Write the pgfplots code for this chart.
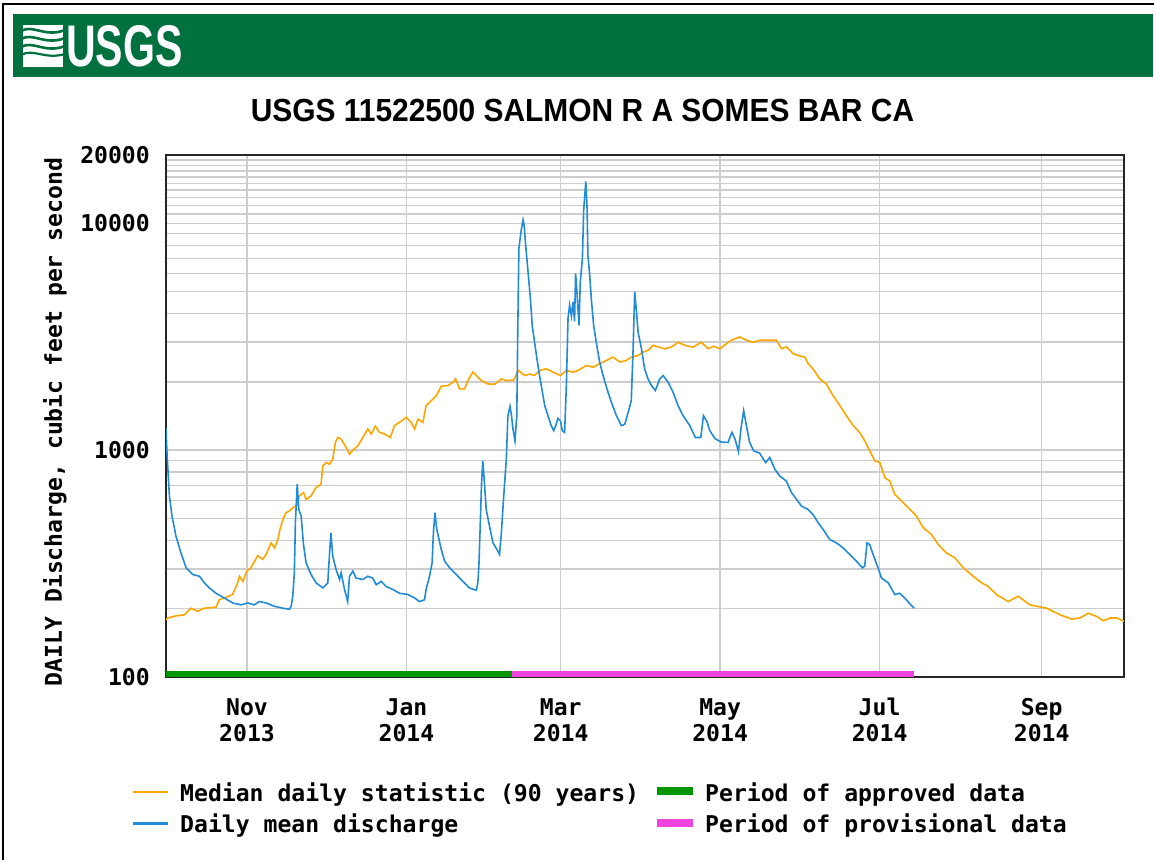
\documentclass[border=0pt]{standalone}
\usepackage{fontspec}
\usepackage{graphicx}
\usepackage{pgfplots}
\pgfplotsset{compat=1.18}
\setmainfont{Liberation Sans}
\newfontfamily\monofam{DejaVu Sans Mono}
\newcommand\tfont{\monofam\bfseries\fontsize{23.1}{26.3}\selectfont}
\definecolor{hdrgreen}{RGB}{0,112,62}
\definecolor{medorange}{RGB}{255,165,0}
\definecolor{meanblue}{RGB}{34,139,214}
\definecolor{appgreen}{RGB}{0,150,0}
\definecolor{provpink}{RGB}{238,68,221}
\definecolor{gridgray}{RGB}{205,205,205}

\begin{document}
\begin{tikzpicture}[x=1pt,y=1pt]
\path[use as bounding box] (0,0) rectangle (1154,860);
% outer frame (top and left)
\draw[line width=2pt,black] (3,0) -- (3,856) -- (1154,856);
% header band
\fill[hdrgreen] (12.7,782.5) rectangle (1153,846);
% logo mark
\fill[white] (23,793) rectangle (63,835);
\begin{scope}
\clip (23,793) rectangle (63,835);
\draw[hdrgreen,line width=2.6pt] (21,829) .. controls (33,836) and (45,822) .. (65,830);
\draw[hdrgreen,line width=2.6pt] (21,821) .. controls (33,828) and (45,814) .. (65,822);
\draw[hdrgreen,line width=2.6pt] (21,813) .. controls (33,820) and (45,806) .. (65,814);
\draw[hdrgreen,line width=2.2pt] (21,805) .. controls (33,812) and (45,800) .. (65,806);
\end{scope}
\node[anchor=base west,inner sep=0pt,text=white,font=\bfseries\fontsize{58.7}{60}\selectfont] at (66,793) {\scalebox{0.70}[1]{USGS}};
% title
\node[anchor=base,inner sep=0pt,font=\bfseries\fontsize{32}{36}\selectfont] at (582.5,738) {\scalebox{0.935}[1]{USGS 11522500 SALMON R A SOMES BAR CA}};
% y label
\node[rotate=90,inner sep=0pt,font=\tfont] at (55,438) {DAILY Discharge, cubic feet per second};

\begin{axis}[
  at={(166pt,183pt)}, anchor=south west,
  scale only axis, width=958pt, height=522pt,
  ymode=log, xmin=0, xmax=366.5, ymin=100, ymax=20000,
  xtick={31,92,151,212,273,335},
  xticklabels={{\vphantom{l}Nov\\2013},{\vphantom{l}Jan\\2014},{\vphantom{l}Mar\\2014},{\vphantom{l}May\\2014},{\vphantom{l}Jul\\2014},{\vphantom{l}Sep\\2014}},
  ytick={100,1000,10000,20000},
  yticklabels={100,1000,10000,20000},
  minor ytick={200,300,400,500,600,700,800,900,2000,3000,4000,5000,6000,7000,8000,9000,11000,12000,13000,14000,15000,16000,17000,18000,19000},
  xmajorgrids, ymajorgrids, yminorgrids,
  major grid style={gridgray,line width=1.5pt},
  minor grid style={gridgray,line width=1.5pt},
  major tick length=0pt, minor tick length=0pt,
  axis line style={line width=2pt,black!85},
  /pgf/number format/assume math mode=true,
  xticklabel style={font=\tfont,align=center,anchor=north,inner sep=0pt,yshift=-20.3pt},
  yticklabel style={font=\tfont,anchor=east,inner sep=0pt,xshift=-16pt},
  clip=true,
]
% period bars
\addplot[appgreen,line width=6pt] coordinates {(0,103.6) (132.3,103.6)};
\addplot[provpink,line width=6pt] coordinates {(132.3,103.6) (286.3,103.6)};
% median daily statistic
\addplot[medorange,line width=1.6pt] coordinates {
(0,179) (0.6,182) (3.8,186) (7.0,188) (9.6,201) (12.1,195) (14.7,201) (19.1,203) (20.4,219) (22.3,223) (25.5,231) (27.4,260) (28.1,278) (29.4,264) (30.9,293) (32.5,303) (35.1,343) (37.0,330) (38.3,347) (40.2,390) (41.5,371) (42.8,404) (43.6,447) (44.7,495) (45.9,530) (47.2,539) (48.5,558) (49.8,567) (51.0,628) (52.6,650) (53.6,607) (55.5,628) (57.4,684) (59.3,708) (60.0,853) (61.3,881) (62.5,867) (63.8,912) (64.8,1081) (65.7,1137) (67.0,1119) (68.9,1028) (70.2,960) (71.5,1000) (73.4,1045) (75.3,1137) (77.2,1239) (78.5,1178) (80.1,1274) (81.7,1197) (83.6,1178) (85.8,1137) (87.4,1282) (89.3,1325) (91.9,1396) (93.8,1325) (95.1,1239) (96.4,1371) (98.3,1325) (99.5,1571) (101.5,1653) (103.4,1738) (105.3,1914) (107.9,1927) (109.8,1991) (110.8,2061) (112.3,1862) (114.2,1862) (115.5,2026) (117.4,2208) (118.7,2133) (120.6,2026) (123.1,1959) (125.7,1950) (128.3,2061) (130.2,2026) (133.0,2035) (134.8,2244) (137.2,2133) (139.1,2165) (141.0,2133) (142.9,2244) (145.5,2282) (148.0,2208) (150.9,2133) (153.2,2244) (155.7,2208) (157.6,2244) (160.8,2360) (163.4,2320) (165.9,2404) (168.5,2485) (171.0,2570) (173.6,2445) (176.1,2485) (178.0,2570) (180.6,2612) (182.5,2704) (184.4,2750) (186.3,2897) (188.2,2850) (190.8,2799) (193.4,2850) (195.9,2990) (198.5,2897) (201.6,2845) (204.8,2990) (207.3,2800) (209.5,2870) (211.9,2799) (214.4,2944) (216.3,3050) (219.5,3155) (222.1,3050) (224.6,2990) (227.2,3050) (229.7,3050) (233.5,3050) (235.5,2800) (237.4,2850) (240.0,2660) (241.8,2612) (244.4,2570) (245.7,2404) (247.5,2282) (250.1,2061) (252.6,1959) (255.2,1738) (257.8,1571) (260.3,1419) (262.9,1282) (265.4,1197) (267.3,1099) (269.2,993) (271.2,897) (273.1,881) (275.0,757) (276.9,731) (278.8,638) (281.4,597) (284.6,548) (287.1,512) (289.7,455) (292.8,425) (295.4,384) (298.6,352) (301.8,335) (305.0,303) (308.8,278) (312.0,260) (314.5,251) (317.7,231) (322.2,215) (326.0,227) (330.5,208) (333.1,205) (336.9,201) (342.0,188) (346.5,180) (349.6,182) (352.8,191) (356.0,185) (358.6,177) (361.1,182) (363.7,182) (366.5,176)
};
% daily mean discharge
\addplot[meanblue,line width=1.6pt] coordinates {
(0,1250) (0.4,960) (1.3,628) (2.3,512) (3.8,418) (5.7,353) (7.7,303) (10.2,283) (12.8,278) (14.7,260) (16.6,247) (19.1,234) (22.3,223) (25.5,212) (28.7,208) (31.3,212) (33.8,208) (35.7,215) (38.3,212) (41.5,205) (44.7,201) (47.2,199) (47.9,205) (48.5,227) (49.1,288) (49.5,478) (50.2,708) (50.8,548) (51.7,512) (52.6,384) (53.6,318) (55.5,283) (57.4,260) (60.0,247) (61.9,260) (62.5,340) (63.1,432) (63.8,340) (65.1,297) (66.4,269) (67.0,288) (68.3,243) (69.5,215) (70.2,278) (71.5,293) (72.7,273) (75.3,269) (77.2,278) (79.1,273) (80.4,255) (82.3,264) (84.2,251) (86.8,243) (89.3,234) (92.5,231) (95.1,223) (97.0,215) (98.9,219) (99.5,243) (100.8,278) (101.8,318) (102.3,432) (102.9,530) (103.6,447) (105.3,365) (106.6,324) (108.5,303) (111.0,283) (113.6,264) (116.1,247) (118.7,241) (119.3,260) (119.7,308) (120.2,462) (120.7,708) (121.2,897) (121.9,695) (122.5,548) (123.5,478) (125.1,390) (126.6,365) (127.6,347) (128.3,432) (129.2,628) (130.2,912) (130.8,1419) (131.6,1560) (132.2,1410) (132.7,1250) (133.5,1099) (134.2,1419) (134.6,3548) (135.0,7740) (135.9,9330) (136.6,10350) (137.0,9800) (137.6,8010) (138.5,6110) (139.4,4660) (140.1,3548) (141.0,2990) (141.9,2529) (142.9,2133) (144.0,1799) (144.9,1571) (146.1,1419) (147.4,1282) (148.3,1219) (149.1,1282) (149.9,1380) (150.9,1346) (151.6,1219) (152.5,1197) (153.2,1991) (153.8,3801) (154.4,4355) (155.1,3900) (155.7,4500) (156.3,3700) (156.7,6010) (157.2,4990) (158.0,3548) (158.5,5520) (159.3,7000) (159.8,11460) (160.6,15280) (161.1,11600) (161.4,7240) (162.1,5900) (162.7,4660) (163.6,3548) (164.6,2990) (165.9,2445) (167.2,2133) (168.7,1862) (170.4,1625) (172.3,1419) (174.2,1282) (175.5,1300) (176.8,1468) (178.0,1653) (178.7,2799) (179.3,4990) (180.0,4064) (180.6,3319) (181.9,2799) (183.1,2282) (184.4,2061) (185.7,1927) (187.2,1831) (188.9,2061) (190.2,2133) (192.1,1991) (194.0,1799) (195.9,1571) (197.8,1419) (200.4,1282) (202.5,1137) (204.6,1137) (205.6,1419) (207.0,1330) (208.0,1219) (210.2,1119) (212.5,1085) (215.0,1081) (216.5,1197) (217.7,1119) (219.0,985) (220.0,1250) (221.0,1493) (222.2,1250) (223.3,1081) (224.8,993) (227.1,970) (229.4,881) (231.0,928) (232.9,824) (234.8,769) (237.3,731) (239.3,650) (241.2,607) (243.1,567) (245.6,548) (247.5,521) (249.5,478) (251.4,447) (253.9,404) (256.5,390) (259.0,371) (261.6,347) (264.1,324) (266.4,303) (267.3,308) (268.2,390) (269.2,384) (270.5,347) (272.4,303) (273.7,273) (276.3,260) (278.8,231) (280.7,234) (282.6,223) (284.6,210) (286.2,201)
};
\end{axis}

% legend
\draw[medorange,line width=2.5pt] (133,68) -- (168,68);
\node[anchor=base west,inner sep=0pt,font=\tfont] at (180,59) {Median daily statistic (90 years)};
\draw[meanblue,line width=2.5pt] (133,36.5) -- (168,36.5);
\node[anchor=base west,inner sep=0pt,font=\tfont] at (180,27.3) {Daily mean discharge};
\fill[appgreen] (657,65) rectangle (693,73);
\node[anchor=base west,inner sep=0pt,font=\tfont] at (705,59) {Period of approved data};
\fill[provpink] (657,33.5) rectangle (693,41.5);
\node[anchor=base west,inner sep=0pt,font=\tfont] at (705,27.3) {Period of provisional data};
\end{tikzpicture}
\end{document}
